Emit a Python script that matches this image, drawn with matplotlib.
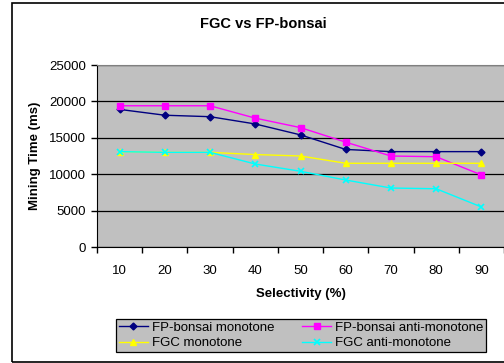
import matplotlib
matplotlib.use("Agg")
import matplotlib.pyplot as plt
from matplotlib.patches import Rectangle

plt.rcParams['font.family'] = ['Liberation Sans', 'DejaVu Sans']

selectivity = ['10', '20', '30', '40', '50', '60', '70', '80', '90']
fp_mono = [18900, 18100, 17900, 16900, 15400, 13400, 13100, 13100, 13100]
fp_anti = [19400, 19400, 19400, 17700, 16400, 14400, 12500, 12400, 9900]
fgc_mono = [13100, 13000, 13000, 12700, 12500, 11500, 11500, 11500, 11500]
fgc_anti = [13100, 13000, 13000, 11400, 10400, 9200, 8100, 8000, 5500]

fig = plt.figure(figsize=(5.04, 3.63), dpi=100)
fig.patch.set_facecolor('white')

# outer chart frame
fig.patches.append(Rectangle((12/504, 1/363), 1.0, 359/363, transform=fig.transFigure,
                             fill=False, edgecolor='black', linewidth=1.2, clip_on=False))

ax = fig.add_axes([97/504, 1-247/363, 407/504, 182/363])
ax.set_facecolor('#c0c0c0')

x = list(range(len(selectivity)))
l1, = ax.plot(x, fp_mono, color='#000080', marker='D', markersize=3.5, linewidth=1,
              label='FP-bonsai monotone')
l2, = ax.plot(x, fp_anti, color='#ff00ff', marker='s', markersize=4.5, linewidth=1,
              label='FP-bonsai anti-monotone')
l3, = ax.plot(x, fgc_mono, color='#ffff00', marker='^', markersize=5, linewidth=1,
              label='FGC monotone')
l4, = ax.plot(x, fgc_anti, color='#00ffff', marker='x', markersize=5, markeredgewidth=1.2,
              linewidth=1, label='FGC anti-monotone')

ax.set_xlim(-0.5, len(selectivity) - 0.5)
ax.set_ylim(0, 25000)
ax.set_yticks(range(0, 25001, 5000))
ax.yaxis.grid(True, color='black', linewidth=0.9)
ax.set_axisbelow(True)

ax.set_xticks(x)
ax.set_xticklabels(selectivity)
ax.set_xticks([i - 0.5 for i in range(len(selectivity) + 1)], minor=True)
ax.tick_params(axis='x', which='major', length=0, pad=13, labelsize=9.5)
ax.tick_params(axis='x', which='minor', length=4, direction='out', width=1)
ax.tick_params(axis='y', length=4, direction='out', width=1, labelsize=9.5, pad=4)

ax.spines['right'].set_visible(False)
ax.spines['top'].set_color('#808080')
ax.spines['left'].set_color('black')
ax.spines['bottom'].set_color('black')

fig.text(263/504, 1-24/363, 'FGC vs FP-bonsai', ha='center', va='center',
         fontsize=10.5, fontweight='bold')
ax.set_xlabel('Selectivity (%)', fontsize=9.5, fontweight='bold', labelpad=8)
ax.set_ylabel('Mining Time (ms)', fontsize=9.5, fontweight='bold', labelpad=6)

# column-wise fill: put the FP pair on the first row
leg = fig.legend([l1, l3, l2, l4], [l1.get_label(), l3.get_label(), l2.get_label(), l4.get_label()],
                 loc='lower left', bbox_to_anchor=(116/504, 1-352/363, 370/504, 37/363),
                 mode='expand', ncol=2, fontsize=9.5, frameon=True, fancybox=False,
                 handlelength=2.2, handletextpad=0.3, borderpad=0.2, labelspacing=0.25,
                 columnspacing=1.0, borderaxespad=0)
leg.get_frame().set_facecolor('#c0c0c0')
leg.get_frame().set_edgecolor('black')
leg.get_frame().set_alpha(1)
leg.get_frame().set_linewidth(0.9)

fig.savefig('out.png', dpi=100)
